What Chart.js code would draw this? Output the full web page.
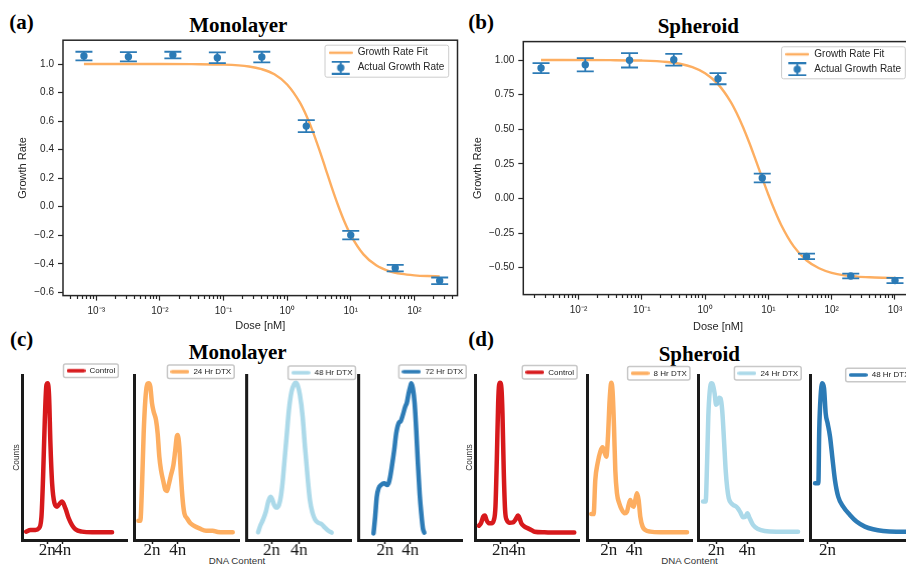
<!DOCTYPE html>
<html>
<head>
<meta charset="utf-8">
<script src="https://cdn.jsdelivr.net/npm/chart.js@4.4.1/dist/chart.umd.min.js"></script>
<style>
  html, body { margin: 0; padding: 0; background: #fff; }
  #fig { position: relative; width: 906px; height: 565px; overflow: hidden; background: #fff; }
  #fig canvas { position: absolute; }
  #fig svg { position: absolute; left: 0; top: 0; }
  .lab { font-family: 'Liberation Serif', 'Times New Roman', serif; font-weight: bold; font-size: 21px; fill: #000; }
  .xl { font-family: 'Liberation Sans', Arial, sans-serif; font-size: 9.7px; fill: #333; }
</style>
</head>
<body>
<div id="fig">
  <svg width="906" height="565">
    <text class="lab" x="9.3" y="29.3">(a)</text>
    <text class="lab" x="238.3" y="32.2" text-anchor="middle">Monolayer</text>
    <text class="lab" x="468.3" y="29.3">(b)</text>
    <text class="lab" x="698.3" y="33" text-anchor="middle">Spheroid</text>
    <text class="lab" x="10" y="346">(c)</text>
    <text class="lab" x="237.7" y="359.4" text-anchor="middle">Monolayer</text>
    <text class="lab" x="468.3" y="346">(d)</text>
    <text class="lab" x="699.3" y="360.5" text-anchor="middle">Spheroid</text>
    <text class="xl" x="237" y="563.5" text-anchor="middle">DNA Content</text>
    <text class="xl" x="689.5" y="563.5" text-anchor="middle">DNA Content</text>
  </svg>
</div>
<script>
// ================= DATA =================
// (a) Monolayer dose response
const doseMono   = [0.00064, 0.0032, 0.016, 0.08, 0.4, 2, 10, 50, 250];
const growthMono = [1.056, 1.051, 1.063, 1.044, 1.049, 0.565, -0.199, -0.430, -0.519];
const errMono    = [0.030, 0.032, 0.023, 0.038, 0.037, 0.042, 0.030, 0.023, 0.023];
const fitDoseMono   = [0.00064, 0.01, 0.0316, 0.1, 0.251, 0.398, 0.631, 1, 1.585, 1.995, 2.512, 3.162, 3.981, 5.012, 6.31, 7.943, 10, 15.85, 25.12, 39.81, 63.1, 100, 158.5, 250];
const fitGrowthMono = [1.000, 1.000, 0.999, 0.996, 0.983, 0.964, 0.928, 0.857, 0.731, 0.641, 0.532, 0.407, 0.273, 0.137, 0.010, -0.104, -0.199, -0.334, -0.411, -0.451, -0.471, -0.481, -0.486, -0.488];

// (b) Spheroid dose response
const doseSph   = [0.00256, 0.0128, 0.064, 0.32, 1.6, 8, 40, 200, 1000];
const growthSph = [0.942, 0.966, 0.998, 1.002, 0.865, 0.148, -0.418, -0.560, -0.592];
const errSph    = [0.036, 0.048, 0.052, 0.043, 0.040, 0.031, 0.020, 0.017, 0.019];
const fitDoseSph   = [0.00256, 0.0316, 0.1, 0.251, 0.398, 0.631, 1, 1.585, 2.512, 3.162, 3.981, 5.012, 6.31, 7.943, 10, 12.59, 15.85, 25.12, 39.81, 63.1, 100, 158.5, 251.2, 398.1, 631, 1000];
const fitGrowthSph = [1.000, 0.999, 0.996, 0.986, 0.973, 0.949, 0.905, 0.828, 0.702, 0.616, 0.515, 0.401, 0.277, 0.151, 0.027, -0.087, -0.189, -0.346, -0.446, -0.504, -0.537, -0.555, -0.564, -0.569, -0.572, -0.574];

// tick values / labels
const yTicksMono  = [-0.6, -0.4, -0.2, 0, 0.2, 0.4, 0.6, 0.8, 1.0];
const yLabelsMono = ['\u22120.6', '\u22120.4', '\u22120.2', '0.0', '0.2', '0.4', '0.6', '0.8', '1.0'];
const yTicksSph   = [-0.5, -0.25, 0, 0.25, 0.5, 0.75, 1.0];
const yLabelsSph  = ['\u22120.50', '\u22120.25', '0.00', '0.25', '0.50', '0.75', '1.00'];
const xMajorMono  = [1e-3, 1e-2, 1e-1, 1, 10, 100];
const xLabelsMono = ['10\u207B\u00B3', '10\u207B\u00B2', '10\u207B\u00B9', '10\u2070', '10\u00B9', '10\u00B2'];
const xMajorSph   = [1e-2, 1e-1, 1, 10, 100, 1000];
const xLabelsSph  = ['10\u207B\u00B2', '10\u207B\u00B9', '10\u2070', '10\u00B9', '10\u00B2', '10\u00B3'];

// (c)/(d) DNA content histograms (x in units of n, counts normalised to peak)
const ploidyTicks  = [2, 4];
const ploidyLabels = ['2n', '4n'];
const monoLabels = ['Control', '24 Hr DTX', '48 Hr DTX', '72 Hr DTX'];
const sphLabels  = ['Control', '8 Hr DTX', '24 Hr DTX', '48 Hr DTX'];

const monoControlDNA    = [-0.70, -0.14, 0.50, 0.93, 1.27, 1.48, 1.70, 1.91, 2.08, 2.25, 2.42, 2.64, 2.94, 3.28, 3.62, 3.92, 4.35, 4.77, 5.20, 5.63, 6.48, 7.77, 9.05, 10.34];
const monoControlCounts = [0.053, 0.064, 0.064, 0.074, 0.148, 0.403, 0.763, 0.985, 0.996, 0.911, 0.615, 0.360, 0.235, 0.212, 0.232, 0.244, 0.201, 0.138, 0.095, 0.068, 0.053, 0.049, 0.049, 0.049];
const mono24DNA    = [0.94, 1.09, 1.22, 1.35, 1.48, 1.61, 1.74, 1.87, 2.00, 2.13, 2.31, 2.44, 2.57, 2.70, 2.89, 3.04, 3.17, 3.30, 3.48, 3.67, 3.80, 3.93, 4.00, 4.13, 4.26, 4.39, 4.52, 4.73, 4.99, 5.30, 5.69, 6.21, 6.73, 7.12, 7.64, 8.29];
const mono24Counts = [0.123, 0.123, 0.339, 0.678, 0.890, 0.985, 0.996, 0.975, 0.869, 0.816, 0.763, 0.678, 0.530, 0.445, 0.371, 0.318, 0.312, 0.350, 0.413, 0.477, 0.562, 0.657, 0.668, 0.593, 0.403, 0.254, 0.170, 0.138, 0.106, 0.089, 0.074, 0.059, 0.059, 0.051, 0.049, 0.049];
const mono48DNA    = [1.02, 1.20, 1.39, 1.59, 1.76, 1.93, 2.05, 2.19, 2.37, 2.54, 2.68, 2.80, 2.93, 3.10, 3.27, 3.46, 3.66, 3.78, 3.90, 4.07, 4.27, 4.44, 4.63, 4.80, 5.00, 5.17, 5.41, 5.66, 5.90, 6.15, 6.39];
const mono48Counts = [0.049, 0.095, 0.131, 0.180, 0.244, 0.275, 0.259, 0.223, 0.206, 0.223, 0.275, 0.360, 0.487, 0.657, 0.826, 0.943, 0.992, 1.000, 0.985, 0.922, 0.784, 0.593, 0.403, 0.254, 0.170, 0.131, 0.110, 0.100, 0.078, 0.059, 0.047];
const mono72DNA    = [1.07, 1.20, 1.33, 1.47, 1.68, 1.92, 2.13, 2.27, 2.40, 2.53, 2.72, 2.88, 3.07, 3.25, 3.41, 3.60, 3.73, 3.87, 4.00, 4.08, 4.21, 4.35, 4.48, 4.61, 4.75, 4.88, 5.01, 5.12];
const mono72Counts = [0.042, 0.148, 0.275, 0.328, 0.350, 0.360, 0.350, 0.360, 0.403, 0.466, 0.572, 0.678, 0.742, 0.757, 0.795, 0.848, 0.873, 0.932, 0.975, 0.996, 0.964, 0.869, 0.699, 0.487, 0.297, 0.170, 0.074, 0.047];

const sphControlDNA    = [-0.55, -0.31, -0.04, 0.16, 0.35, 0.63, 0.94, 1.22, 1.41, 1.57, 1.73, 1.84, 1.96, 2.12, 2.24, 2.39, 2.55, 2.75, 3.10, 3.49, 3.80, 4.08, 4.27, 4.47, 4.86, 5.26, 5.65, 6.04, 7.22, 8.39, 10.75];
const sphControlCounts = [0.091, 0.106, 0.148, 0.155, 0.127, 0.106, 0.106, 0.127, 0.212, 0.509, 0.869, 0.985, 1.000, 0.964, 0.805, 0.445, 0.191, 0.127, 0.110, 0.112, 0.131, 0.155, 0.138, 0.106, 0.085, 0.074, 0.064, 0.053, 0.049, 0.047, 0.047];
const sph8DNA    = [0.65, 0.83, 0.96, 1.14, 1.35, 1.53, 1.66, 1.82, 1.95, 2.08, 2.21, 2.31, 2.42, 2.52, 2.65, 2.83, 3.04, 3.25, 3.43, 3.56, 3.69, 3.82, 3.95, 4.08, 4.21, 4.34, 4.47, 4.65, 4.86, 5.25, 6.03, 7.07, 8.11];
const sph8Counts = [0.165, 0.165, 0.381, 0.487, 0.562, 0.589, 0.562, 0.530, 0.657, 0.890, 1.000, 0.943, 0.720, 0.445, 0.297, 0.233, 0.191, 0.170, 0.180, 0.223, 0.254, 0.223, 0.212, 0.254, 0.297, 0.254, 0.148, 0.085, 0.064, 0.053, 0.049, 0.049, 0.049];
const sph24DNA    = [1.14, 1.31, 1.40, 1.48, 1.57, 1.68, 1.78, 1.89, 1.98, 2.08, 2.18, 2.27, 2.38, 2.49, 2.60, 2.70, 2.80, 2.95, 3.10, 3.25, 3.40, 3.55, 3.72, 3.87, 4.00, 4.15, 4.37, 4.69, 5.12, 5.87, 7.27];
const sph24Counts = [0.244, 0.244, 0.487, 0.784, 0.943, 0.996, 0.985, 0.930, 0.860, 0.870, 0.905, 0.900, 0.820, 0.640, 0.445, 0.330, 0.265, 0.235, 0.222, 0.215, 0.200, 0.175, 0.144, 0.148, 0.170, 0.138, 0.095, 0.070, 0.057, 0.053, 0.053];
const sph48DNA    = [1.16, 1.38, 1.44, 1.53, 1.64, 1.76, 1.87, 2.00, 2.16, 2.31, 2.49, 2.71, 3.04, 3.49, 3.93, 4.49, 5.04, 5.71, 6.60, 7.22, 7.80];
const sph48Counts = [0.360, 0.360, 0.699, 0.911, 0.996, 0.964, 0.805, 0.742, 0.657, 0.530, 0.381, 0.275, 0.212, 0.159, 0.117, 0.085, 0.068, 0.057, 0.053, 0.053, 0.053];

// ================= STYLE / LAYOUT =================
const SANS = "'Liberation Sans', Arial, Helvetica, sans-serif";
const SERIF = "'Liberation Serif', 'Times New Roman', serif";
const INK = '#262626';
const BLUE = '#2c7bb6', ORANGE = '#fdae61', RED = '#d7191c', LIGHTBLUE = '#abd9e9';
Chart.defaults.font.family = SANS;

const fig = document.getElementById('fig');
function makeCanvas(left, top, w, h) {
  const c = document.createElement('canvas');
  c.width = w; c.height = h;
  c.style.left = left + 'px'; c.style.top = top + 'px';
  c.style.width = w + 'px'; c.style.height = h + 'px';
  fig.appendChild(c);
  return c;
}
function lineGlyph(color, w, h, lw) {
  const c = document.createElement('canvas'); c.width = w; c.height = h;
  const g = c.getContext('2d');
  g.strokeStyle = color; g.lineWidth = lw; g.lineCap = 'round';
  g.beginPath(); g.moveTo(lw / 2, h / 2); g.lineTo(w - lw / 2, h / 2); g.stroke();
  return c;
}
function errGlyph(color) {
  const c = document.createElement('canvas'); c.width = 24; c.height = 14;
  const g = c.getContext('2d');
  g.strokeStyle = color; g.fillStyle = color; g.lineWidth = 1.8;
  g.beginPath();
  g.moveTo(12, 1); g.lineTo(12, 13);
  g.moveTo(3, 1); g.lineTo(21, 1);
  g.moveTo(3, 13); g.lineTo(21, 13);
  g.stroke();
  g.beginPath(); g.arc(12, 7, 3.7, 0, Math.PI * 2); g.fill();
  return c;
}
function placeLegend(x, y, fr) {
  return {
    id: 'placeLegend',
    afterLayout(chart) {
      const lg = chart.legend; if (!lg) return;
      lg.left = x; lg.top = y; lg.right = x + lg.width; lg.bottom = y + lg.height;
    },
    afterDraw(chart) {
      const lg = chart.legend;
      if (!lg || !lg.legendHitBoxes || !lg.legendHitBoxes.length) return;
      let l = Infinity, t = Infinity, r = -Infinity, b = -Infinity;
      lg.legendHitBoxes.forEach(h => {
        l = Math.min(l, h.left); t = Math.min(t, h.top);
        r = Math.max(r, h.left + h.width); b = Math.max(b, h.top + h.height);
      });
      const ctx = chart.ctx; ctx.save();
      ctx.strokeStyle = fr.color; ctx.lineWidth = fr.width;
      ctx.beginPath();
      const X = l - fr.l, Y = t - fr.t, W = r - l + fr.l + fr.r, H = b - t + fr.t + fr.b;
      if (ctx.roundRect) ctx.roundRect(X, Y, W, H, fr.radius); else ctx.rect(X, Y, W, H);
      ctx.stroke(); ctx.restore();
    }
  };
}
function errorBarPlugin(datasetIndex, errs, color, cap, lw) {
  return {
    id: 'errorBars',
    afterDatasetsDraw(chart) {
      const { ctx, scales: { x, y } } = chart;
      const ds = chart.data.datasets[datasetIndex];
      ctx.save(); ctx.strokeStyle = color; ctx.lineWidth = lw;
      ds.data.forEach((p, i) => {
        const px = x.getPixelForValue(p.x);
        const t = y.getPixelForValue(p.y + errs[i]);
        const b = y.getPixelForValue(p.y - errs[i]);
        ctx.beginPath();
        ctx.moveTo(px, t); ctx.lineTo(px, b);
        ctx.moveTo(px - cap, t); ctx.lineTo(px + cap, t);
        ctx.moveTo(px - cap, b); ctx.lineTo(px + cap, b);
        ctx.stroke();
      });
      ctx.restore();
    }
  };
}
const axesFrame = {
  id: 'axesFrame',
  afterDraw(chart) {
    const { ctx, chartArea: a } = chart;
    ctx.save(); ctx.strokeStyle = INK; ctx.lineWidth = 1.5;
    ctx.strokeRect(a.left, a.top, a.right - a.left, a.bottom - a.top);
    ctx.restore();
  }
};
function logTicks(min, max) {
  const out = [];
  for (let k = Math.floor(Math.log10(min)); k <= Math.ceil(Math.log10(max)); k++) {
    for (let m = 1; m <= 9; m++) {
      const v = m * Math.pow(10, k);
      if (v >= min && v <= max) out.push({ value: v, major: m === 1 });
    }
  }
  return out;
}
const isPow10 = v => { const l = Math.log10(v); return Math.abs(l - Math.round(l)) < 1e-6; };

function bigChart(o) {
  const cv = makeCanvas(o.left, o.top, o.w, o.h);
  const pts = o.dose.map((d, i) => ({ x: d, y: o.growth[i] }));
  const fit = o.fitDose.map((d, i) => ({ x: d, y: o.fit[i] }));
  const glyphs = [errGlyph(BLUE), lineGlyph(ORANGE, 24, 6, 2.4)];
  new Chart(cv, {
    type: 'line',
    data: {
      datasets: [
        { label: 'Actual Growth Rate', data: pts, showLine: false, pointRadius: 3.7, pointHoverRadius: 3.7,
          pointBackgroundColor: BLUE, pointBorderWidth: 0, borderColor: BLUE, backgroundColor: BLUE },
        { label: 'Growth Rate Fit', data: fit, borderColor: ORANGE, backgroundColor: ORANGE, borderWidth: 2.4,
          pointRadius: 0, cubicInterpolationMode: 'monotone', fill: false }
      ]
    },
    options: {
      responsive: false, animation: false, events: [],
      layout: { padding: o.pad },
      scales: {
        x: {
          type: 'logarithmic', min: o.xmin, max: o.xmax,
          afterBuildTicks: s => { s.ticks = logTicks(o.xmin, o.xmax); },
          afterFit: s => { s.height = o.xh; },
          ticks: { autoSkip: false, maxRotation: 0, padding: 5, color: INK, font: { family: SANS, size: 10 },
            callback: v => { const i = o.xMajor.findIndex(m => Math.abs(Math.log10(m) - Math.log10(v)) < 1e-6); return i >= 0 ? o.xLabels[i] : ''; } },
          grid: { drawOnChartArea: false, drawTicks: true, tickLength: 5, tickWidth: 1.2, tickColor: INK,
            tickBorderDash: c => (c.tick && isPow10(c.tick.value)) ? [] : [3, 20] },
          border: { display: false },
          title: { display: true, text: 'Dose [nM]', color: INK, font: { family: SANS, size: 11 }, padding: 0 }
        },
        y: {
          type: 'linear', min: o.ymin, max: o.ymax,
          afterBuildTicks: s => { s.ticks = o.yTicks.map(v => ({ value: v })); },
          afterFit: s => { s.width = o.yw; },
          ticks: { autoSkip: false, padding: 4, color: INK, font: { family: SANS, size: 10 },
            callback: v => { const i = o.yTicks.findIndex(t => Math.abs(t - v) < 1e-9); return i >= 0 ? o.yLabels[i] : ''; } },
          grid: { drawOnChartArea: false, drawTicks: true, tickLength: 5, tickWidth: 1.2, tickColor: INK },
          border: { display: false },
          title: { display: true, text: 'Growth Rate', color: INK, font: { family: SANS, size: 11 }, padding: 0 }
        }
      },
      plugins: {
        tooltip: { enabled: false },
        legend: {
          position: 'chartArea', align: 'start',
          labels: {
            usePointStyle: true, pointStyleWidth: 24, padding: 5, color: INK, font: { family: SANS, size: 10 },
            generateLabels: chart => {
              const items = Chart.defaults.plugins.legend.labels.generateLabels(chart);
              items.forEach(it => { it.pointStyle = glyphs[it.datasetIndex]; });
              return items.reverse();
            }
          }
        }
      }
    },
    plugins: [axesFrame, errorBarPlugin(0, o.err, BLUE, 8.5, 1.8),
      placeLegend(o.legX, o.legY, { l: 3.7, r: 4.3, t: 2.5, b: 4.5, radius: 2, color: '#cccccc', width: 1 })]
  });
}

bigChart({ left: 0, top: 30, w: 470, h: 305, pad: { left: 16.2, right: 12.5, top: 10.2, bottom: 2.4 }, yw: 46.8, xh: 37,
  dose: doseMono, growth: growthMono, err: errMono, fitDose: fitDoseMono, fit: fitGrowthMono,
  xmin: 3.357e-4, xmax: 476.4, ymin: -0.623, ymax: 1.167,
  yTicks: yTicksMono, yLabels: yLabelsMono, xMajor: xMajorMono, xLabels: xLabelsMono,
  legX: 323.7, legY: 12.7 });

bigChart({ left: 455, top: 30, w: 470, h: 305, pad: { left: 16.2, right: 12.3, top: 11.6, bottom: 1.9 }, yw: 52.1, xh: 38.5,
  dose: doseSph, growth: growthSph, err: errSph, fitDose: fitDoseSph, fit: fitGrowthSph,
  xmin: 0.0013427, xmax: 1904, ymin: -0.694, ymax: 1.133,
  yTicks: yTicksSph, yLabels: yLabelsSph, xMajor: xMajorSph, xLabels: xLabelsSph,
  legX: 325.3, legY: 14.3 });

// ---- small histogram panels ----
function smallChart(o) {
  const padL = o.yTitle ? o.titlePad : 0;
  const left = o.spine - 14;
  const w = (o.right - o.spine) + 14 + 8;
  const cv = makeCanvas(left, 360, w, 205);
  const glyph = lineGlyph(o.color, 19, 6, 3.5);
  new Chart(cv, {
    type: 'line',
    data: { datasets: [{ label: o.label, data: o.xs.map((x, i) => ({ x, y: o.ys[i] })), borderColor: o.color, backgroundColor: o.color,
      borderWidth: 4.5, pointRadius: 0, cubicInterpolationMode: 'monotone', borderJoinStyle: 'round', borderCapStyle: 'round', fill: false }] },
    options: {
      responsive: false, animation: false, events: [],
      layout: { padding: { left: padL, right: 8, top: 15, bottom: 0 } },
      scales: {
        x: {
          type: 'linear', min: o.xmin, max: o.xmax,
          afterBuildTicks: s => { s.ticks = o.ticks.map(v => ({ value: v })); },
          afterFit: s => { s.height = 25; },
          ticks: { autoSkip: false, maxRotation: 0, padding: -4, color: '#1a1a1a', font: { family: SERIF, size: 17 },
            callback: v => ploidyLabels[ploidyTicks.indexOf(v)] },
          grid: { drawOnChartArea: false, drawTicks: true, tickLength: 4, tickWidth: 1.5, tickColor: '#1a1a1a' },
          border: { display: true, width: 3, color: '#1a1a1a' }
        },
        y: {
          type: 'linear', min: 0, max: 1.049,
          afterFit: s => { s.width = 14 - padL; },
          ticks: { display: false },
          grid: { drawOnChartArea: false, drawTicks: false },
          border: { display: true, width: 3, color: '#1a1a1a' },
          title: { display: !!o.yTitle, text: 'Counts', color: '#333', font: { family: SANS, size: 8.4 }, padding: 0 }
        }
      },
      plugins: {
        tooltip: { enabled: false },
        legend: {
          position: 'chartArea', align: 'start',
          labels: { usePointStyle: true, pointStyleWidth: 19, padding: 2, color: '#222', font: { family: SANS, size: 8 },
            generateLabels: chart => {
              const items = Chart.defaults.plugins.legend.labels.generateLabels(chart);
              items.forEach(it => { it.pointStyle = glyph; });
              return items;
            } }
        }
      }
    },
    plugins: [placeLegend(o.legText - 23 - 2 - left, o.legY - 4 - 2 - 360, { l: 3, r: 3, t: 2.7, b: 2.7, radius: 2, color: '#c8c8c8', width: 1.5 })]
  });
}

const smallPanels = [
  { xs: monoControlDNA, ys: monoControlCounts, color: RED,       label: monoLabels[0], spine: 21.5,  right: 126.7, xmin: -1.23,  xmax: 12.26, ticks: ploidyTicks, legText: 89,    legY: 370.7, yTitle: true, titlePad: 3.16 },
  { xs: mono24DNA,      ys: mono24Counts,      color: ORANGE,    label: monoLabels[1], spine: 134.3, right: 239.3, xmin: 0.597,  xmax: 8.78,  ticks: ploidyTicks, legText: 193.7, legY: 371.7 },
  { xs: mono48DNA,      ys: mono48Counts,      color: LIGHTBLUE, label: monoLabels[2], spine: 246.3, right: 351,   xmin: 0.144,  xmax: 7.80,  ticks: ploidyTicks, legText: 314,   legY: 372.7 },
  { xs: mono72DNA,      ys: mono72Counts,      color: BLUE,      label: monoLabels[3], spine: 358.3, right: 462,   xmin: -0.162, xmax: 8.13,  ticks: ploidyTicks, legText: 424.7, legY: 371.7 },
  { xs: sphControlDNA,  ys: sphControlCounts,  color: RED,       label: sphLabels[0],  spine: 474.7, right: 579.5, xmin: -1.015, xmax: 11.31, ticks: ploidyTicks, legText: 548,   legY: 372.3, yTitle: true, titlePad: 3.29 },
  { xs: sph8DNA,        ys: sph8Counts,        color: ORANGE,    label: sphLabels[1],  spine: 586.7, right: 691.7, xmin: 0.314,  xmax: 8.50,  ticks: ploidyTicks, legText: 653.3, legY: 373.3 },
  { xs: sph24DNA,       ys: sph24Counts,       color: LIGHTBLUE, label: sphLabels[2],  spine: 698.3, right: 803.3, xmin: 0.815,  xmax: 7.59,  ticks: ploidyTicks, legText: 760.7, legY: 373.3 },
  { xs: sph48DNA,       ys: sph48Counts,       color: BLUE,      label: sphLabels[3],  spine: 810,   right: 915.3, xmin: 0.822,  xmax: 7.84,  ticks: ploidyTicks.slice(0, 1), legText: 871.7, legY: 375 }
];
smallPanels.forEach(smallChart);
</script>
</body>
</html>
